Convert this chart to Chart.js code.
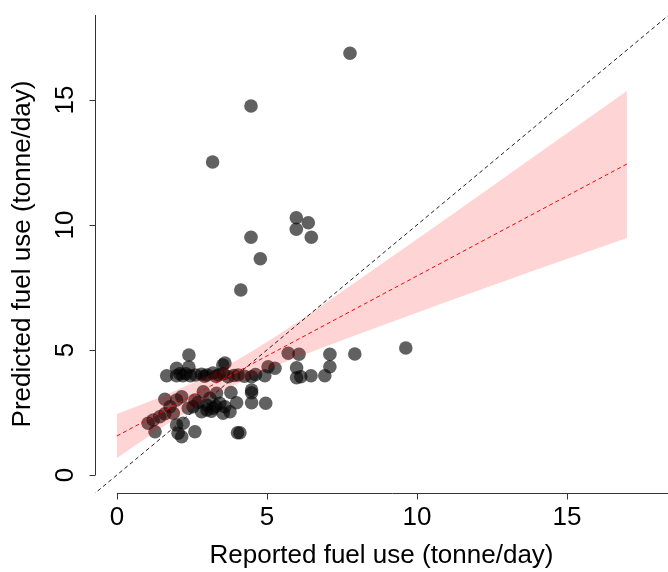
<!DOCTYPE html>
<html>
<head>
<meta charset="utf-8">
<script src="https://cdn.jsdelivr.net/npm/chart.js@4.4.1/dist/chart.umd.min.js"></script>
<style>
  html, body { margin: 0; padding: 0; background: #fff; }
  #wrap { width: 668px; height: 572px; }
</style>
</head>
<body>
<div id="wrap"><canvas id="fuel-chart" width="668" height="572"></canvas></div>
<script>
/* reported vs predicted fuel use, with fitted line + CI band and 1:1 line */

const X_TICKS = [0, 5, 10, 15];
const Y_TICKS = [0, 5, 10, 15];
const X_TITLE = 'Reported fuel use (tonne/day)';
const Y_TITLE = 'Predicted fuel use (tonne/day)';

// observations (tonne/day)
const reported = [
  7.77, 4.47, 3.19, 5.98, 6.38, 5.98, 6.48, 4.47, 4.78, 4.13, 9.63, 7.93,
  2.40, 5.71, 6.07, 7.10,
  1.99, 2.40, 3.53, 3.60, 5.04, 5.27, 5.99, 7.10,
  1.66, 1.99, 2.20, 2.45, 2.82, 3.00, 3.20, 3.40, 3.71, 4.04, 4.25, 4.49, 4.93, 5.99, 6.13, 6.47, 6.93,
  2.10, 2.62, 2.92, 3.30, 3.55, 3.90, 4.62, 2.30,
  4.49, 3.80,
  1.04, 1.21, 1.27, 1.43, 1.60, 1.77, 1.88, 1.99, 2.16, 2.38, 2.60, 2.88, 3.10, 3.32, 1.60,
  2.54, 2.82, 2.99, 3.21, 3.43, 3.54, 1.99, 2.04, 2.16, 2.60, 2.21, 3.99, 4.49, 4.96, 3.77, 4.49, 4.02, 4.10, 3.60,
  3.00, 3.30, 2.70, 3.15
];
const predicted = [
  16.87, 14.76, 12.52, 10.29, 10.09, 9.83, 9.51, 9.51, 8.65, 7.40, 5.08, 4.84,
  4.80, 4.87, 4.83, 4.83,
  4.27, 4.32, 4.40, 4.48, 4.33, 4.27, 4.29, 4.33,
  3.97, 3.97, 3.97, 3.97, 4.03, 4.00, 4.08, 4.00, 3.93, 4.00, 3.95, 3.93, 3.97, 3.89, 3.93, 3.97, 3.97,
  4.05, 4.00, 3.95, 3.95, 4.05, 3.98, 4.02, 4.05,
  3.40, 3.30,
  2.07, 2.20, 1.73, 2.33, 3.03, 2.73, 2.47, 3.00, 3.13, 2.67, 3.00, 3.33, 3.07, 3.27, 2.45,
  2.73, 2.53, 2.80, 2.67, 2.87, 2.47, 2.00, 1.67, 1.53, 1.73, 2.07, 2.89, 2.89, 2.87, 2.53, 3.29, 1.69, 1.69, 2.73,
  2.60, 2.75, 2.90, 2.55
];

// fitted line and confidence band
const fitX     = [0, 1, 2, 3, 4, 5, 6, 8, 10, 12, 14, 17];
const fitY     = [1.56, 2.20, 2.84, 3.48, 4.12, 4.76, 5.40, 6.68, 7.96, 9.24, 10.52, 12.44];
const bandHigh = [2.44, 2.90, 3.40, 3.95, 4.59, 5.32, 6.10, 7.75, 9.43, 11.12, 12.82, 15.36];
const bandLow  = [0.68, 1.50, 2.28, 3.01, 3.65, 4.20, 4.70, 5.61, 6.49, 7.36, 8.22, 9.48];

// 1:1 reference line
const refX = [-1, 19];
const refY = [-1, 19];

const FONT = '"Liberation Sans", Arial, sans-serif';
const zip = (xs, ys) => xs.map((x, i) => ({ x, y: ys[i] }));

const rAxes = {
  id: 'rAxes',
  afterDraw(chart) {
    const { ctx, chartArea: a } = chart;
    const sx = chart.scales.x, sy = chart.scales.y;
    ctx.save();
    ctx.strokeStyle = '#333';
    ctx.lineWidth = 1;
    ctx.fillStyle = '#000';
    ctx.font = '26px ' + FONT;

    // x axis
    const xLineY = Math.round(a.bottom) + 0.5;
    ctx.beginPath();
    ctx.moveTo(sx.getPixelForValue(X_TICKS[0]), xLineY);
    ctx.lineTo(a.right, xLineY);
    X_TICKS.forEach(v => {
      const px = Math.round(sx.getPixelForValue(v)) + 0.5;
      ctx.moveTo(px, xLineY);
      ctx.lineTo(px, xLineY + 6);
    });
    ctx.stroke();
    ctx.textAlign = 'center';
    ctx.textBaseline = 'middle';
    X_TICKS.forEach(v => ctx.fillText(String(v), sx.getPixelForValue(v), 518));

    // y axis
    const yLineX = Math.round(a.left) + 0.5;
    ctx.beginPath();
    ctx.moveTo(yLineX, sy.getPixelForValue(Y_TICKS[0]));
    ctx.lineTo(yLineX, a.top);
    Y_TICKS.forEach(v => {
      const py = Math.round(sy.getPixelForValue(v)) + 0.5;
      ctx.moveTo(yLineX, py);
      ctx.lineTo(yLineX - 6, py);
    });
    ctx.stroke();
    Y_TICKS.forEach(v => {
      ctx.save();
      ctx.translate(66, sy.getPixelForValue(v));
      ctx.rotate(-Math.PI / 2);
      ctx.fillText(String(v), 0, 0);
      ctx.restore();
    });

    // titles
    ctx.fillText(X_TITLE, (a.left + a.right) / 2, 556);
    ctx.save();
    ctx.translate(23, (a.top + a.bottom) / 2);
    ctx.rotate(-Math.PI / 2);
    ctx.fillText(Y_TITLE, 0, 0);
    ctx.restore();
    ctx.restore();
  }
};

new Chart(document.getElementById('fuel-chart'), {
  type: 'scatter',
  data: {
    datasets: [
      {
        label: 'Observed', data: zip(reported, predicted), order: 4,
        backgroundColor: 'rgba(0,0,0,0.62)', borderWidth: 0, pointRadius: 6.8
      },
      {
        type: 'line', label: 'CI upper', data: zip(fitX, bandHigh), order: 3,
        fill: '+1', backgroundColor: 'rgba(255,0,0,0.17)', borderWidth: 0,
        pointRadius: 0, cubicInterpolationMode: 'monotone'
      },
      {
        type: 'line', label: 'CI lower', data: zip(fitX, bandLow), order: 3,
        fill: false, borderWidth: 0, pointRadius: 0, cubicInterpolationMode: 'monotone'
      },
      {
        type: 'line', label: 'Fit', data: zip(fitX, fitY), order: 2,
        borderColor: '#ff0000', borderWidth: 1, borderDash: [4, 3], pointRadius: 0, fill: false
      },
      {
        type: 'line', label: '1:1', data: zip(refX, refY), order: 1,
        borderColor: '#222', borderWidth: 1, borderDash: [4, 3], pointRadius: 0, fill: false
      }
    ]
  },
  options: {
    responsive: false,
    animation: false,
    devicePixelRatio: 1,
    layout: { autoPadding: false, padding: { left: 95, right: 0, top: 15, bottom: 79 } },
    scales: {
      x: { type: 'linear', min: -0.73, max: 18.37, display: false },
      y: { type: 'linear', min: -0.72, max: 18.4, display: false }
    },
    plugins: { legend: { display: false }, tooltip: { enabled: false } }
  },
  plugins: [rAxes]
});
</script>
</body>
</html>
